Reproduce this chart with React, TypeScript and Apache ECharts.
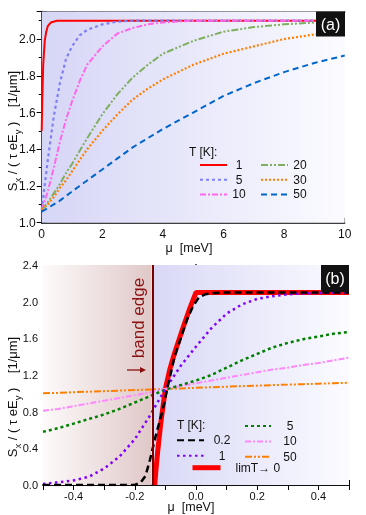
import React, { useEffect, useRef } from 'react';
import * as echarts from 'echarts';

const FONT = "'Liberation Sans', Arial, sans-serif";

// ---------- panel (a) data ----------
const muTopT1 = [0, 0.02, 0.05, 0.1, 0.15, 0.2, 0.3, 0.5, 10];
const sTopT1 = [1.5, 1.68, 1.86, 1.99, 2.04, 2.07, 2.09, 2.1, 2.1];

const muTop = [0, 0.2, 0.4, 0.6, 0.8, 1, 1.25, 1.5, 2, 2.5, 3, 3.5, 4, 5, 6, 7, 8, 9, 10];
const sTopT5 = [1.07, 1.34, 1.58, 1.76, 1.89, 1.96, 2.02, 2.05, 2.08, 2.095, 2.1, 2.1, 2.1, 2.1, 2.1, 2.1, 2.1, 2.1, 2.1];
const sTopT10 = [1.07, 1.17, 1.3, 1.44, 1.56, 1.66, 1.77, 1.86, 1.96, 2.03, 2.06, 2.08, 2.09, 2.1, 2.1, 2.1, 2.1, 2.1, 2.1];
const sTopT20 = [1.07, 1.11, 1.16, 1.21, 1.27, 1.32, 1.39, 1.46, 1.59, 1.7, 1.79, 1.86, 1.92, 1.99, 2.04, 2.065, 2.08, 2.09, 2.095];
const sTopT30 = [1.07, 1.1, 1.14, 1.19, 1.23, 1.28, 1.34, 1.4, 1.5, 1.59, 1.67, 1.73, 1.78, 1.86, 1.92, 1.96, 2.0, 2.025, 2.045];
const sTopT50 = [1.06, 1.08, 1.1, 1.12, 1.145, 1.17, 1.2, 1.23, 1.29, 1.35, 1.41, 1.46, 1.51, 1.6, 1.69, 1.76, 1.82, 1.87, 1.91];

// ---------- panel (b) data ----------
const muBot = [-0.5, -0.45, -0.4, -0.35, -0.3, -0.25, -0.2, -0.15, -0.1, -0.05, 0, 0.05, 0.1, 0.15, 0.2, 0.25, 0.3, 0.35, 0.4, 0.45, 0.5];
const sBotT1 = [0.01, 0.03, 0.05, 0.09, 0.18, 0.31, 0.5, 0.76, 1.05, 1.3, 1.51, 1.71, 1.87, 1.97, 2.03, 2.06, 2.08, 2.09, 2.095, 2.1, 2.1];
const sBotT5 = [0.58, 0.62, 0.67, 0.72, 0.77, 0.83, 0.9, 0.97, 1.04, 1.09, 1.14, 1.2, 1.28, 1.36, 1.43, 1.5, 1.55, 1.59, 1.62, 1.65, 1.67];
const sBotT10 = [0.81, 0.83, 0.86, 0.89, 0.92, 0.95, 0.98, 1.01, 1.05, 1.08, 1.11, 1.14, 1.17, 1.2, 1.23, 1.26, 1.28, 1.31, 1.33, 1.36, 1.39];
const sBotT50 = [1.0, 1.005, 1.012, 1.018, 1.024, 1.03, 1.036, 1.042, 1.048, 1.054, 1.06, 1.066, 1.072, 1.078, 1.084, 1.09, 1.095, 1.1, 1.105, 1.11, 1.115];

const muBotT02 = [-0.5, -0.2, -0.18, -0.165, -0.15, -0.13, -0.11, -0.09, -0.07, -0.05, -0.03, -0.01, 0.01, 0.03, 0.06, 0.1, 0.5];
const sBotT02 = [0, 0, 0.03, 0.1, 0.28, 0.56, 0.8, 1.11, 1.4, 1.6, 1.8, 1.95, 2.05, 2.08, 2.095, 2.1, 2.1];

const muBotLim = [-0.135, -0.13, -0.125, -0.115, -0.1, -0.085, -0.07, -0.04, -0.02, 0, 0.5];
const sBotLim = [0, 0.2, 0.37, 0.68, 1.05, 1.27, 1.44, 1.74, 1.93, 2.1, 2.1];

const bandEdge = -0.145;

// legend labels
const topLegendA = ['a1', 'a5', 'a10'];
const topLegendB = ['a20', 'a30', 'a50'];
const botLegendA = ['b02', 'b1'];
const botLegendLim = ['blim'];
const botLegendB = ['b5', 'b10', 'b50'];
const legendText: Record<string, string> = {
  a1: '1', a5: '5', a10: '10', a20: '20', a30: '30', a50: '50',
  b02: '0.2', b1: '1', b5: '5', b10: '10', b50: '50', blim: 'limT→ 0',
};

const zip = (xs: number[], ys: number[]) => xs.map((x, i) => [x, ys[i]]);

function line(name: string, axis: number, xs: number[], ys: number[], color: string, width: number, type: any) {
  return {
    name,
    type: 'line',
    xAxisIndex: axis,
    yAxisIndex: axis,
    data: zip(xs, ys),
    symbol: 'none',
    showSymbol: false,
    lineStyle: { color, width, type, cap: 'butt' },
    itemStyle: { color },
    silent: true,
  };
}

export default function App() {
  const ref = useRef<HTMLDivElement>(null);
  useEffect(() => {
    if (!ref.current) return;
    const chart = echarts.init(ref.current, null, { renderer: 'svg' });

    const axisLine = { show: true, lineStyle: { color: '#000', width: 1.5 } };
    const tick = { show: true, inside: true, length: 5, lineStyle: { color: '#000', width: 1 } };
    const minor = { show: true, splitNumber: 2, length: 3, lineStyle: { color: '#000', width: 1 } };
    const lbl = (size: number, margin: number, fmt: any) => ({
      show: true, fontSize: size, fontFamily: FONT, color: '#111', margin, formatter: fmt,
    });
    const noLbl = { show: false };

    const fmtTopY = (v: number) => (Math.abs(v * 5 - Math.round(v * 5)) < 1e-6 ? v.toFixed(1) : '');
    const fmtBotX = (v: number) => {
      const r = Math.round(v * 10);
      return r % 2 === 0 && Math.abs(r) < 5 ? (r / 10).toFixed(1) : '';
    };

    const topGrad = new echarts.graphic.LinearGradient(0, 0, 1, 0, [
      { offset: 0, color: '#d6d6f6' },
      { offset: 1, color: '#fbfbff' },
    ]);
    const botLeftGrad = new echarts.graphic.LinearGradient(0, 0, 1, 0, [
      { offset: 0, color: '#fdfafa' },
      { offset: 1, color: '#e0c8c8' },
    ]);
    const botRightGrad = new echarts.graphic.LinearGradient(0, 0, 1, 0, [
      { offset: 0, color: '#d8d8f6' },
      { offset: 1, color: '#fbfbff' },
    ]);

    const legendBase = (data: string[], left: number, top: number, itemWidth: number, gap: number, rich: any, lineWidth?: number) => ({
      data,
      left,
      top,
      orient: 'vertical',
      itemWidth,
      itemHeight: 10,
      itemGap: gap,
      padding: 0,
      selectedMode: false,
      itemStyle: { opacity: 0, borderWidth: 0 },
      lineStyle: lineWidth ? { width: lineWidth } : {},
      formatter: (n: string) => `{c|${legendText[n]}}`,
      textStyle: { fontSize: 12, fontFamily: FONT, color: '#111', rich: { c: rich } },
    });

    const titleRich = {
      n: { fontSize: 13, fontFamily: FONT, lineHeight: 20, verticalAlign: 'middle', fill: '#111' },
      s: { fontSize: 9.5, fontFamily: FONT, lineHeight: 12, verticalAlign: 'bottom', fill: '#111' },
    };
    const titleText = '{n|S}{s|x}{n| / ( τ eE}{s|y}{n| )    [1/μm]}';

    const option: any = {
      animation: false,
      grid: [
        { left: 41.7, top: 11.5, width: 303, height: 211.2, show: false },
        { left: 43, top: 265, width: 306, height: 220, show: false },
      ],
      xAxis: [
        { gridIndex: 0, type: 'value', min: 0, max: 10, interval: 2, position: 'bottom', axisLine, axisTick: tick, minorTick: minor, splitLine: { show: false }, axisLabel: lbl(12, 5, undefined) },
        { gridIndex: 0, type: 'value', min: 0, max: 10, interval: 2, position: 'top', axisLine, axisTick: tick, minorTick: minor, splitLine: { show: false }, axisLabel: noLbl },
        { gridIndex: 1, type: 'value', min: -0.5, max: 0.5, interval: 0.1, position: 'bottom', axisLine, axisTick: tick, splitLine: { show: false }, axisLabel: lbl(11, 5, fmtBotX) },
        { gridIndex: 1, type: 'value', min: -0.5, max: 0.5, interval: 0.1, position: 'top', axisLine, axisTick: tick, splitLine: { show: false }, axisLabel: noLbl },
      ],
      yAxis: [
        { gridIndex: 0, type: 'value', min: 1, max: 2.15, interval: 0.2, position: 'left', axisLine, axisTick: tick, minorTick: minor, splitLine: { show: false }, axisLabel: lbl(12, 6, fmtTopY) },
        { gridIndex: 0, type: 'value', min: 1, max: 2.15, interval: 0.2, position: 'right', axisLine, axisTick: tick, minorTick: minor, splitLine: { show: false }, axisLabel: noLbl },
        { gridIndex: 1, type: 'value', min: 0, max: 2.4, interval: 0.4, position: 'left', axisLine, axisTick: tick, minorTick: minor, splitLine: { show: false }, axisLabel: lbl(11, 5, (v: number) => v.toFixed(1)) },
        { gridIndex: 1, type: 'value', min: 0, max: 2.4, interval: 0.4, position: 'right', axisLine, axisTick: tick, minorTick: minor, splitLine: { show: false }, axisLabel: noLbl },
      ],
      legend: [
        legendBase(topLegendA, 199, 159, 27, 2.7, { width: 14, align: 'center' }),
        legendBase(topLegendB, 260, 159, 27, 2.7, { width: 14, align: 'center' }),
        legendBase(botLegendA, 176, 434.3, 27, 3.4, { width: 26, align: 'center' }),
        legendBase(botLegendLim, 190, 461.7, 28, 3.4, { padding: [0, 0, 0, 10] }, 5),
        legendBase(botLegendB, 244, 420, 26, 3.4, { width: 28, align: 'center' }),
      ],
      series: [
        {
          name: 'bgTop', type: 'line', xAxisIndex: 0, yAxisIndex: 0, data: [[0, 1]], symbol: 'none',
          lineStyle: { width: 0, opacity: 0 }, z: 1, silent: true,
          markArea: { silent: true, label: { show: false }, itemStyle: { color: topGrad }, data: [[{ xAxis: 0, yAxis: 1 }, { xAxis: 10, yAxis: 2.15 }]] },
        },
        {
          name: 'bgBot', type: 'line', xAxisIndex: 2, yAxisIndex: 2, data: [[0, 0]], symbol: 'none',
          lineStyle: { width: 0, opacity: 0 }, z: 1, silent: true,
          markArea: {
            silent: true,
            label: { show: false },
            data: [
              [{ xAxis: -0.5, yAxis: 0, itemStyle: { color: botLeftGrad } }, { xAxis: bandEdge, yAxis: 2.4 }],
              [{ xAxis: bandEdge, yAxis: 0, itemStyle: { color: botRightGrad } }, { xAxis: 0.5, yAxis: 2.4 }],
            ],
          },
          markLine: {
            silent: true, symbol: 'none', label: { show: false },
            lineStyle: { color: '#7a0000', width: 2, type: 'solid' },
            data: [{ xAxis: bandEdge }],
          },
        },
        line('a1', 0, muTopT1, sTopT1, '#ff0000', 2, 'solid'),
        line('a5', 0, muTop, sTopT5, '#7f7ff5', 2.2, [3, 3]),
        line('a10', 0, muTop, sTopT10, '#ff66ee', 2, [6, 2, 2, 2]),
        line('a20', 0, muTop, sTopT20, '#7fae5f', 2, [7, 2, 2, 2, 2, 2]),
        line('a30', 0, muTop, sTopT30, '#ff8000', 2.2, [2, 2]),
        line('a50', 0, muTop, sTopT50, '#0066cc', 2, [6, 4]),
        line('blim', 2, muBotLim, sBotLim, '#ff0000', 5, 'solid'),
        line('b50', 2, muBot, sBotT50, '#ff8000', 2, [7, 2, 2, 2, 2, 2]),
        line('b10', 2, muBot, sBotT10, '#ff88ff', 2, [6, 2, 2, 2]),
        line('b5', 2, muBot, sBotT5, '#008000', 2.5, [3, 3]),
        line('b1', 2, muBot, sBotT1, '#8000ff', 2.5, [2.5, 3.5]),
        line('b02', 2, muBotT02, sBotT02, '#000000', 2.5, [7, 4]),
      ],
      graphic: [
        // y-axis titles
        { type: 'text', x: 12, y: 131, rotation: Math.PI / 2, z: 10, style: { text: titleText, align: 'center', verticalAlign: 'middle', fill: '#111', rich: titleRich } },
        { type: 'text', x: 12, y: 397, rotation: Math.PI / 2, z: 10, style: { text: titleText, align: 'center', verticalAlign: 'middle', fill: '#111', rich: titleRich } },
        // x-axis titles
        { type: 'text', x: 189, y: 248, z: 10, style: { text: 'μ  [meV]', fontSize: 12.5, fontFamily: FONT, fill: '#111', align: 'center', verticalAlign: 'middle' } },
        { type: 'text', x: 191, y: 507, z: 10, style: { text: 'μ  [meV]', fontSize: 12.5, fontFamily: FONT, fill: '#111', align: 'center', verticalAlign: 'middle' } },
        // panel labels
        { type: 'rect', z: 10, shape: { x: 316, y: 11.5, width: 29, height: 25 }, style: { fill: '#111' } },
        { type: 'text', x: 330.5, y: 24, z: 11, style: { text: '(a)', fontSize: 16, fontFamily: FONT, fill: '#fff', align: 'center', verticalAlign: 'middle' } },
        { type: 'rect', z: 10, shape: { x: 321, y: 265, width: 28, height: 27 }, style: { fill: '#111' } },
        { type: 'text', x: 335, y: 278.5, z: 11, style: { text: '(b)', fontSize: 16, fontFamily: FONT, fill: '#fff', align: 'center', verticalAlign: 'middle' } },
        // legend headers
        { type: 'text', x: 189, y: 152, z: 10, style: { text: 'T [K]:', fontSize: 12, fontFamily: FONT, fill: '#111', align: 'left', verticalAlign: 'middle' } },
        { type: 'text', x: 177, y: 425, z: 10, style: { text: 'T [K]:', fontSize: 12, fontFamily: FONT, fill: '#111', align: 'left', verticalAlign: 'middle' } },
        // band edge annotation
        { type: 'text', x: 138.5, y: 318, rotation: Math.PI / 2, z: 10, style: { text: 'band edge', fontSize: 17, fontFamily: FONT, fill: '#8b1010', align: 'center', verticalAlign: 'middle' } },
        { type: 'line', z: 10, shape: { x1: 127, y1: 370, x2: 141, y2: 370 }, style: { stroke: '#8b1010', lineWidth: 1.3 } },
        { type: 'polygon', z: 10, shape: { points: [[140, 367], [146, 370], [140, 373]] }, style: { fill: '#8b1010' } },
      ],
    };

    chart.setOption(option);
    return () => chart.dispose();
  }, []);

  return <div ref={ref} style={{ position: 'fixed', left: 0, top: 0, width: 366, height: 515 }} />;
}
